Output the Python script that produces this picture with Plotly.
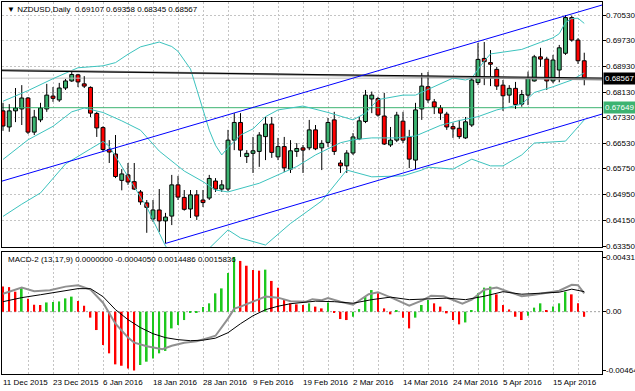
import plotly.graph_objects as go

# ---------------- data ----------------
bar_index = list(range(94))

open_ = [0.6755, 0.6705, 0.6755, 0.6761, 0.6795, 0.6689, 0.6727, 0.6761, 0.6801, 0.6789,
         0.6826, 0.6848, 0.6867, 0.6839, 0.6828, 0.6747, 0.6703, 0.6635, 0.6621, 0.6539,
         0.6556, 0.6535, 0.6503, 0.6469, 0.6419, 0.6447, 0.6413, 0.6428, 0.6525, 0.6486,
         0.6450, 0.6494, 0.6478, 0.6484, 0.6537, 0.6512, 0.6512, 0.6664, 0.6719, 0.6613,
         0.6623, 0.6629, 0.6675, 0.6714, 0.6612, 0.6644, 0.6574, 0.6629, 0.6640, 0.6640,
         0.6696, 0.6640, 0.6657, 0.6727, 0.6593, 0.6584, 0.6624, 0.6668, 0.6722, 0.6792,
         0.6793, 0.6739, 0.6649, 0.6664, 0.6723, 0.6674, 0.6602, 0.6761, 0.6830, 0.6783,
         0.6765, 0.6745, 0.6706, 0.6701, 0.6671, 0.6711, 0.6843, 0.6918, 0.6905, 0.6884,
         0.6835, 0.6804, 0.6825, 0.6776, 0.6804, 0.6848, 0.6923, 0.6916, 0.6848, 0.6882,
         0.6934, 0.7045, 0.6975, 0.69107]
high = [0.6780, 0.6776, 0.6826, 0.6835, 0.6798, 0.6758, 0.6780, 0.6839, 0.6829, 0.6842,
        0.6854, 0.6882, 0.6870, 0.6863, 0.6831, 0.6752, 0.6707, 0.6664, 0.6680, 0.6574,
        0.6593, 0.6593, 0.6509, 0.6478, 0.6478, 0.6512, 0.6438, 0.6556, 0.6553, 0.6509,
        0.6509, 0.6509, 0.6509, 0.6556, 0.6546, 0.6540, 0.6696, 0.6748, 0.6748, 0.6633,
        0.6674, 0.6689, 0.6736, 0.6736, 0.6671, 0.6674, 0.6664, 0.6655, 0.6649, 0.6727,
        0.6711, 0.6664, 0.6733, 0.6752, 0.6602, 0.6633, 0.6686, 0.6736, 0.6820, 0.6815,
        0.6799, 0.6811, 0.6705, 0.6752, 0.6752, 0.6696, 0.6780, 0.6873, 0.6876, 0.6792,
        0.6773, 0.6752, 0.6717, 0.6727, 0.6736, 0.6860, 0.6966, 0.6969, 0.6944, 0.6892,
        0.6851, 0.6835, 0.6845, 0.6820, 0.6877, 0.6929, 0.6951, 0.6923, 0.6929, 0.6960,
        0.7053, 0.7051, 0.6981, 0.69358]
low = [0.6693, 0.6690, 0.6720, 0.6711, 0.6683, 0.6680, 0.6720, 0.6752, 0.6783, 0.6783,
       0.6820, 0.6845, 0.6829, 0.6826, 0.6736, 0.6674, 0.6627, 0.6593, 0.6546, 0.6508,
       0.6525, 0.6509, 0.6463, 0.6376, 0.6410, 0.6379, 0.6343, 0.6400, 0.6478, 0.6445,
       0.6422, 0.6416, 0.6456, 0.6478, 0.6503, 0.6503, 0.6506, 0.6633, 0.6612, 0.6593,
       0.6562, 0.6581, 0.6602, 0.6609, 0.6602, 0.6565, 0.6562, 0.6612, 0.6562, 0.6633,
       0.6633, 0.6571, 0.6643, 0.6618, 0.6562, 0.6562, 0.6618, 0.6664, 0.6717, 0.6748,
       0.6737, 0.6649, 0.6643, 0.6658, 0.6655, 0.6577, 0.6574, 0.6727, 0.6780, 0.6745,
       0.6727, 0.6696, 0.6671, 0.6668, 0.6668, 0.6705, 0.6835, 0.6835, 0.6832, 0.6820,
       0.6755, 0.6780, 0.6761, 0.6768, 0.6773, 0.6846, 0.6892, 0.6820, 0.6841, 0.6844,
       0.6929, 0.6970, 0.6901, 0.68345]
close = [0.6708, 0.6755, 0.6764, 0.6795, 0.6689, 0.6736, 0.6764, 0.6804, 0.6794, 0.6826,
         0.6848, 0.6868, 0.6845, 0.6832, 0.6748, 0.6702, 0.6635, 0.6627, 0.6551, 0.6559,
         0.6534, 0.6512, 0.6472, 0.6455, 0.6447, 0.6413, 0.6425, 0.6525, 0.6487, 0.6449,
         0.6494, 0.6428, 0.6470, 0.6545, 0.6512, 0.6525, 0.6664, 0.6719, 0.6633, 0.6623,
         0.6631, 0.6680, 0.6714, 0.6626, 0.6644, 0.6578, 0.6631, 0.6638, 0.6633, 0.6696,
         0.6637, 0.6654, 0.6719, 0.6629, 0.6584, 0.6624, 0.6674, 0.6724, 0.6804, 0.6804,
         0.6742, 0.6652, 0.6664, 0.6742, 0.6664, 0.6605, 0.6758, 0.6832, 0.6789, 0.6767,
         0.6748, 0.6705, 0.6699, 0.6675, 0.6721, 0.6851, 0.6915, 0.6908, 0.6900, 0.6832,
         0.6802, 0.6825, 0.6775, 0.6806, 0.6856, 0.6923, 0.6916, 0.6848, 0.6913, 0.6951,
         0.7045, 0.6975, 0.69107, 0.68567]

# Bollinger bands
bb_upper_k = [0, 4, 8, 12, 16, 18, 20, 22, 25, 27, 28, 30, 31, 32, 33, 34, 35, 36, 38, 40,
              42, 44, 48, 52, 56, 58, 60, 64, 66, 72, 74, 75, 77, 78, 80, 83, 86, 88, 89, 90,
              91, 92, 93]
bb_upper = [0.6785, 0.6818, 0.6855, 0.6889, 0.6895, 0.6905, 0.6931, 0.6954, 0.6969, 0.6955,
            0.6940, 0.6885, 0.6822, 0.6757, 0.6695, 0.6648, 0.6618, 0.6641, 0.6680, 0.6699,
            0.6737, 0.6758, 0.6770, 0.6750, 0.6727, 0.6748, 0.6790, 0.6804, 0.6804, 0.6857,
            0.6851, 0.6857, 0.6910, 0.6932, 0.6938, 0.6946, 0.6968, 0.6982, 0.6995, 0.7030,
            0.7042, 0.7043, 0.7027]
bb_mid_k = [0, 4, 8, 11, 13, 16, 19, 22, 25, 29, 32, 34, 36, 41, 47, 50, 54, 56, 59, 63,
            66, 70, 73, 76, 79, 81, 83, 85, 88, 91, 93]
bb_mid = [0.6604, 0.6665, 0.6707, 0.6752, 0.6764, 0.6750, 0.6724, 0.6695, 0.6630, 0.6568,
          0.6535, 0.6509, 0.6503, 0.6530, 0.6582, 0.6618, 0.6656, 0.6665, 0.6671, 0.6671,
          0.6677, 0.6710, 0.6725, 0.6737, 0.6758, 0.6767, 0.6776, 0.6812, 0.6830, 0.6851,
          0.6873]
bb_lower_k = [0, 3, 6, 10, 14, 16, 17, 21, 23, 26, 28, 30, 33, 36, 38, 42, 46, 51, 55, 59,
              64, 67, 68, 72, 75, 78, 80, 83, 85, 90, 92, 93]
bb_lower = [0.6427, 0.6465, 0.6500, 0.6590, 0.6637, 0.6660, 0.6645, 0.6520, 0.6456, 0.6335,
            0.6290, 0.6285, 0.6328, 0.6385, 0.6360, 0.6338, 0.6405, 0.6475, 0.6571, 0.6550,
            0.6553, 0.6571, 0.6580, 0.6574, 0.6605, 0.6584, 0.6584, 0.6618, 0.6655, 0.6661,
            0.6705, 0.6727]

# Drawn objects
channel_upper_k = [-1, 100]
channel_upper = [0.65319, 0.71076]
channel_lower_k = [26, 100]
channel_lower = [0.6343, 0.67690]
gray_line_k = [-1, 96]
gray_line = [0.68822, 0.68526]
black_line_k = [-1, 96]
black_line = [0.68800, 0.68570]
bid_price = 0.68567
level_price = 0.67649

price_ticks = [0.70530, 0.69730, 0.68930, 0.68130, 0.67330, 0.66530, 0.65750, 0.64950,
               0.64150, 0.63350]
price_tick_labels = ["0.70530", "0.69730", "0.68930", "0.68130", "0.67330", "0.66530",
                     "0.65750", "0.64950", "0.64150", "0.63350"]

date_label_bars = [0, 8, 16, 24, 32, 40, 48, 56, 64, 72, 80, 88]
date_labels = ["11 Dec 2015", "23 Dec 2015", "6 Jan 2016", "18 Jan 2016", "28 Jan 2016",
               "9 Feb 2016", "19 Feb 2016", "2 Mar 2016", "14 Mar 2016", "24 Mar 2016",
               "5 Apr 2016", "15 Apr 2016"]

# MACD panel
macd_hist = [0.00198, 0.00194, 0.00158, 0.00190, 0.00103, 0.00055, 0.00053, 0.00073, 0.00076,
             0.00081, 0.00105, 0.00119, 0.00085, 0.00047, -0.00047, -0.00145, -0.00263,
             -0.00329, -0.00416, -0.00427, -0.00448, -0.004647, -0.00421, -0.00395, -0.00369,
             -0.00329, -0.00310, -0.00132, -0.00105, -0.00066, -0.00010, -0.00005, 0.00037,
             0.00066, 0.00145, 0.00184, 0.00306, 0.0043171, 0.00401, 0.00363, 0.00329,
             0.00324, 0.00332, 0.00243, 0.00190, 0.00092, 0.00066, 0.00058, 0.00053, 0.00066,
             0.00040, 0.00026, 0.00073, -0.00006, -0.00058, -0.00066, -0.00040, 0.00021,
             0.00119, 0.00171, 0.00145, 0.00026, -0.00021, 0.00006, -0.00047, -0.00132,
             -0.00047, 0.00053, 0.00092, 0.00066, 0.00040, -0.00013, -0.00066, -0.00100,
             -0.00085, 0.00013, 0.00145, 0.00190, 0.00198, 0.00137, 0.00053, 0.00018,
             -0.00040, -0.00066, -0.00032, 0.00032, 0.00066, 0.00010, 0.00040, 0.00066,
             0.00158, 0.00137, 0.00066, -0.000405]
macd_k = [0, 3, 5, 7.5, 10, 12, 14, 16, 18, 20, 21, 23, 25.5, 27, 29, 31, 33, 34, 36, 37,
          38, 40, 42, 44, 46, 48.5, 49.5, 51, 52, 54, 56, 58.5, 60, 62.5, 65, 67, 68.5, 70.5,
          72, 73.5, 75, 77, 79, 80.5, 83, 85, 87.5, 89, 91, 92, 93]
macd_line = [0.00142, 0.00190, 0.00162, 0.00170, 0.00198, 0.00209, 0.00174, 0.00071, -0.00095,
             -0.00205, -0.00245, -0.00273, -0.00296, -0.00269, -0.00245, -0.00233, -0.00205,
             -0.00190, -0.00055, 0.00024, 0.00040, 0.00079, 0.00119, 0.00111, 0.00083,
             0.00079, 0.00099, 0.00091, 0.00107, 0.00079, 0.00055, 0.00138, 0.00154, 0.00103,
             0.00047, 0.00087, 0.00126, 0.00122, 0.00095, 0.00063, 0.00095, 0.00174, 0.00190,
             0.00166, 0.00122, 0.00134, 0.00154, 0.00166, 0.00213, 0.00209, 0.0014486]
signal_k = [0, 3, 6, 9, 12, 14, 16, 18, 20, 22, 24, 26, 28, 30, 32, 34, 36, 38, 40, 42, 44,
            46, 48, 50, 53, 56, 59, 62, 65, 68, 71, 74, 77, 80, 83, 86, 89, 91, 93]
signal_line = [0.00079, 0.00111, 0.00134, 0.00158, 0.00182, 0.00182, 0.00119, 0.00016,
               -0.00063, -0.00126, -0.00174, -0.00205, -0.00221, -0.00229, -0.00225, -0.00209,
               -0.00166, -0.00095, -0.00032, 0.00016, 0.00043, 0.00063, 0.00075, 0.00083,
               0.00079, 0.00067, 0.00095, 0.00115, 0.00095, 0.00103, 0.00107, 0.00095, 0.00122,
               0.00158, 0.00138, 0.00146, 0.00154, 0.00178, 0.0015836]
macd_ticks = [0.0043171, 0.0, -0.004647]
macd_tick_labels = ["0.0043171", "0.00", "-0.0046470"]

# ---------------- styling ----------------
FONT = "Liberation Sans, Arial, sans-serif"
FS = 8
GRID = "#C4C4C4"
CYAN = "#3CC3BE"
UP = "#3CB371"
DOWN = "#FF0000"
X_RANGE = [-0.16, 95.84]
MAIN_DOMAIN = [0.3414, 1.0]
MACD_DOMAIN = [0.0, 0.328]

fig = go.Figure()

# candle bodies (bars) and wicks (line segments outside the body)
body_base = [min(o, c) for o, c in zip(open_, close)]
body_len = [abs(c - o) for o, c in zip(open_, close)]
body_col = [UP if c >= o else DOWN for o, c in zip(open_, close)]
fig.add_trace(go.Bar(x=bar_index, y=body_len, base=body_base, width=0.62,
                     marker=dict(color=body_col, line=dict(color="black", width=1)),
                     hoverinfo="skip", xaxis="x", yaxis="y"))
wick_x, wick_y = [], []
for k, o, h, l, c in zip(bar_index, open_, high, low, close):
    wick_x += [k, k, None, k, k, None]
    wick_y += [h, max(o, c), None, min(o, c), l, None]

fig.add_trace(go.Scatter(x=[X_RANGE[0], X_RANGE[1]], y=[bid_price, bid_price], mode="lines",
                         line=dict(color="#C0C0C0", width=1), hoverinfo="skip",
                         xaxis="x", yaxis="y"))
fig.add_trace(go.Scatter(x=[X_RANGE[0], X_RANGE[1]], y=[level_price, level_price], mode="lines",
                         line=dict(color=UP, width=1), hoverinfo="skip",
                         xaxis="x", yaxis="y"))
fig.add_trace(go.Scatter(x=wick_x, y=wick_y, mode="lines", line=dict(color="black", width=1),
                         hoverinfo="skip", connectgaps=False, xaxis="x", yaxis="y"))

for kk, vv in [(bb_upper_k, bb_upper), (bb_mid_k, bb_mid), (bb_lower_k, bb_lower)]:
    fig.add_trace(go.Scatter(x=kk, y=vv, mode="lines", line=dict(color=CYAN, width=1),
                             hoverinfo="skip", xaxis="x", yaxis="y"))

fig.add_trace(go.Scatter(x=gray_line_k, y=gray_line, mode="lines",
                         line=dict(color="#8C8C8C", width=2), hoverinfo="skip",
                         xaxis="x", yaxis="y"))
fig.add_trace(go.Scatter(x=black_line_k, y=black_line, mode="lines",
                         line=dict(color="black", width=1), hoverinfo="skip",
                         xaxis="x", yaxis="y"))
fig.add_trace(go.Scatter(x=channel_upper_k, y=channel_upper, mode="lines",
                         line=dict(color="#0000FF", width=1), hoverinfo="skip",
                         xaxis="x", yaxis="y"))
fig.add_trace(go.Scatter(x=channel_lower_k, y=channel_lower, mode="lines",
                         line=dict(color="#0000FF", width=1), hoverinfo="skip",
                         xaxis="x", yaxis="y"))

# MACD
hist_colors = ["#FF0000" if i == 0 or macd_hist[i] < macd_hist[i - 1] else "#1EC81E"
               for i in range(len(macd_hist))]
fig.add_trace(go.Bar(x=bar_index, y=macd_hist, marker=dict(color=hist_colors, line=dict(width=0)),
                     width=0.28, hoverinfo="skip", xaxis="x2", yaxis="y2"))
fig.add_trace(go.Scatter(x=macd_k, y=macd_line, mode="lines", line=dict(color="#909090", width=2),
                         hoverinfo="skip", xaxis="x2", yaxis="y2"))
fig.add_trace(go.Scatter(x=signal_k, y=signal_line, mode="lines", line=dict(color="black", width=1),
                         hoverinfo="skip", xaxis="x2", yaxis="y2"))

axis_common = dict(showline=True, mirror=True, linecolor="black", linewidth=1, zeroline=False)
txt = dict(size=FS, color="black", family=FONT)

annotations = [
    dict(text="▼ NZDUSD,Daily  0.69107 0.69358 0.68345 0.68567", x=0, y=1, xref="paper",
         yref="paper", xanchor="left", yanchor="top", xshift=3, yshift=-1, showarrow=False,
         font=txt),
    dict(text="MACD-2 (13,17,9) 0.0000000 -0.0004050 0.0014486 0.0015836", x=0,
         y=MACD_DOMAIN[1], xref="paper", yref="paper", xanchor="left", yanchor="top",
         xshift=4, yshift=-1, showarrow=False, font=txt),
]
for v, lab in zip(price_ticks, price_tick_labels):
    annotations.append(dict(text=lab, x=1, y=v, xref="paper", yref="y", xanchor="left",
                            xshift=2, showarrow=False, font=txt))
for v, lab in zip(macd_ticks, macd_tick_labels):
    annotations.append(dict(text=lab, x=1, y=v, xref="paper", yref="y2", xanchor="left",
                            xshift=2, showarrow=False, font=txt))
annotations += [
    dict(text="0.68567", x=1, y=bid_price, xref="paper", yref="y", xanchor="left",
         xshift=1, showarrow=False, bgcolor="black", borderpad=1,
         font=dict(size=FS, color="white", family=FONT)),
    dict(text="0.67649", x=1, y=level_price, xref="paper", yref="y", xanchor="left",
         xshift=1, showarrow=False, bgcolor=UP, borderpad=1,
         font=dict(size=FS, color="white", family=FONT)),
]
for b, lab in zip(date_label_bars, date_labels):
    annotations.append(dict(text=lab, x=b, y=0, xref="x2", yref="paper", xanchor="left",
                            yanchor="top", xshift=-2, yshift=-2, showarrow=False, font=txt))

fig.update_layout(
    width=635, height=391, template="none",
    margin=dict(l=2, r=33, t=2, b=17),
    paper_bgcolor="white", plot_bgcolor="white", showlegend=False,
    font=dict(family=FONT, size=FS, color="black"),
    barmode="overlay",
    xaxis=dict(domain=[0, 1], anchor="y", range=X_RANGE, showticklabels=False, ticks="",
               showgrid=True, gridcolor=GRID, griddash="2px,2px", gridwidth=1, tick0=0, dtick=4,
               **axis_common),
    yaxis=dict(domain=MAIN_DOMAIN, anchor="x", side="right", range=[0.63319, 0.70934],
               tickvals=price_ticks, showticklabels=False, ticks="outside", ticklen=3,
               tickcolor="black", showgrid=True, gridcolor=GRID, griddash="2px,2px",
               **axis_common),
    xaxis2=dict(domain=[0, 1], anchor="y2", range=X_RANGE, showticklabels=False, ticks="",
                showgrid=True, gridcolor=GRID, griddash="2px,2px", gridwidth=1, tick0=0, dtick=4,
                **axis_common),
    yaxis2=dict(domain=MACD_DOMAIN, anchor="x2", side="right", range=[-0.004922, 0.004716],
                tickvals=macd_ticks, showticklabels=False, ticks="outside", ticklen=3,
                tickcolor="black", showgrid=False, **axis_common),
    shapes=[dict(type="line", xref="x2 domain", x0=0, x1=1, yref="y2", y0=0, y1=0,
                 line=dict(color="#A0A0A0", width=1, dash="2px,2px"), layer="below")],
    annotations=annotations,
)

fig.write_html("out.html", config={"displayModeBar": False},
               post_script="document.body.style.margin='0';document.body.style.overflow='hidden';")
